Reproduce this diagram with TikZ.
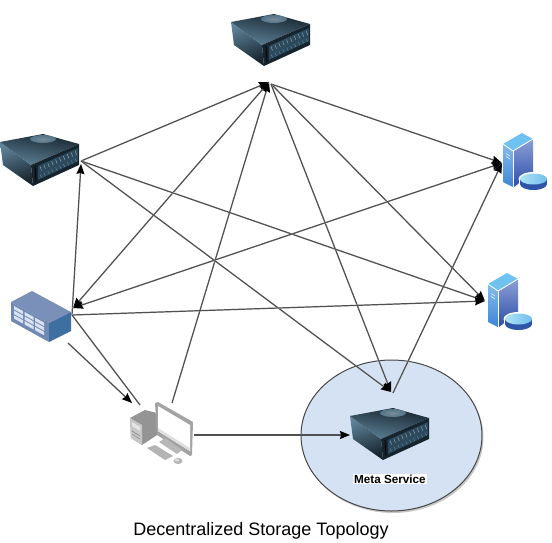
\documentclass[tikz,border=0pt]{standalone}
\usepackage{fontspec}
\setmainfont{Liberation Sans}
\usetikzlibrary{arrows.meta,shapes.geometric}
\definecolor{linkc}{HTML}{505050}
\definecolor{bubblec}{HTML}{D5E2F3}
\definecolor{srvA}{HTML}{16242E}
\definecolor{srvB}{HTML}{2C4A5C}
\definecolor{srvC}{HTML}{5E8298}
\definecolor{srvD}{HTML}{8FA3B0}
\definecolor{twrL1}{HTML}{86BCEB}
\definecolor{twrL2}{HTML}{3F85D6}
\definecolor{twrR1}{HTML}{8D9FD6}
\definecolor{twrR2}{HTML}{2C4FA8}
\definecolor{twrT}{HTML}{6FC2F0}
\definecolor{dskT}{HTML}{8AD6F5}
\definecolor{dskS}{HTML}{2F55A8}
\definecolor{stoT}{HTML}{7A90B8}
\definecolor{stoL}{HTML}{7089B3}
\definecolor{stoR}{HTML}{3F6EA0}
\definecolor{stoC}{HTML}{D8E2F0}
\tikzset{
  x=1pt,y=-1pt,
  tipk/.tip={Stealth[length=10pt,width=8pt,inset=1pt,color=black]},
  link/.style={draw=linkc,line width=1.2pt,-tipk},
  twoway/.style={draw=linkc,line width=1.2pt,tipk-tipk},
  plainlink/.style={draw=linkc,line width=1.2pt},
  linkshadow/.style={draw=black!14,line width=1.3pt,xshift=1.5pt,yshift=-1.6pt},
  anchorbox/.style={inner sep=0pt,minimum width=#1,minimum height=#1},
  pics/rackserver/.style={code={
    \shade[left color=srvC,right color=srvA,shading angle=20] (0,8) -- (31,31) -- (33,52) -- (3,31) -- cycle;
    \shade[left color=srvA,right color=srvC,shading angle=350] (0,8) -- (43,0) -- (79,10) -- (31,31) -- cycle;
    \shade[inner color=srvD,outer color=srvC,opacity=.8] (43,5) ellipse (13 and 4);
    \fill[srvA] (31,31) -- (79,10) -- (79,31) -- (33,52) -- cycle;
    \fill[srvB] (38,32) -- (78,14) -- (78,27) -- (38,46) -- cycle;
    \foreach \k in {0,...,9}{
      \draw[srvD,line width=.5pt] (40+\k*3.9,32.5-\k*1.75) -- +(1.5,4);
      \draw[srvC,line width=.5pt] (40+\k*3.9,40.5-\k*1.75) -- +(1.5,3);
    }
    \draw[black,line width=.8pt] (35,32) -- (36,48);
  }},
  pics/towerdisk/.style={code={
    \fill[white] (-1,11) -- (19,-1) -- (31,5) -- (31,41) -- (22,56) -- (10,55) -- (-1,50) -- cycle;
    \shade[top color=twrL1,bottom color=twrL2] (0,11) -- (10,18) -- (10,54) -- (0,49) -- cycle;
    \shade[top color=twrR1,bottom color=twrR2] (11,18) -- (30,6) -- (30,40) -- (11,54) -- cycle;
    \fill[twrT] (0,11) -- (19,0) -- (30,6) -- (10,18) -- cycle;
    \draw[white,line width=.8pt] (0,11) -- (10,18) -- (30,6);
    \draw[white,line width=.8pt] (10,18) -- (10,54);
    \draw[white!70!twrL1,line width=.7pt] (3,20.5) -- (7,23) (3,23.5) -- (7,26);
    \fill[white] (30.5,46) ellipse (15 and 7);
    \fill[white] (30.5,51) ellipse (15 and 7);
    \fill[white] (15.5,46) rectangle (45.5,51);
    \fill[dskS] (30.5,51) ellipse (13.5 and 6);
    \fill[dskS] (17,46) rectangle (44,51);
    \shade[left color=dskT!70!white,right color=dskT!70!twrL2] (30.5,46) ellipse (13.5 and 5.5);
  }},
  pics/storagebox/.style={code={
    \fill[stoT] (0,11) -- (21,0) -- (60,21) -- (38,32) -- cycle;
    \fill[stoL] (0,11) -- (38,32) -- (38,51) -- (0,30) -- cycle;
    \fill[stoR] (38,32) -- (60,21) -- (60,40) -- (38,51) -- cycle;
    \foreach \r in {0,1,2}{\foreach \c in {0,1,2}{
      \fill[stoC] (3+\c*10.5,15+\r*4.6+\c*5.8) -- ++(9,5) -- ++(0,3.4) -- ++(-9,-5) -- cycle;
    }}
  }},
  pics/desktoppc/.style={code={
    \fill[black!42] (0,5) -- (15,-3) -- (27,0) -- (27,22) -- (12,32) -- (1,25) -- cycle;
    \fill[black!22] (0,5) -- (12,12) -- (12,32) -- (1,25) -- cycle;
    \fill[white!90!black] (2,9) -- (10,14) -- (10,18) -- (2,13) -- cycle;
    \draw[black!50,line width=.5pt] (2,18) -- (10,23) (2,21) -- (10,26);
    \fill[black!36] (25,-10) -- (28,-11) -- (63,9) -- (62,42) -- (60,43) -- (27,22) -- cycle;
    \fill[white] (28,-7) -- (60,12) -- (60,38) -- (28,18) -- cycle;
    \fill[black!12] (28,15) -- (60,35) -- (60,38) -- (28,18) -- cycle;
    \fill[black!28] (29,29) -- (35,25) -- (52,37) -- (47,41) -- cycle;
    \fill[black!30] (17,35) -- (25,32) -- (43,43) -- (35,47) -- cycle;
    \draw[white!75!black,line width=.5pt] (21,36) -- (36,45) (24,34.5) -- (39,43.5);
    \fill[black!30] (48,48) ellipse (4.5 and 3);
    \fill[black!12] (47,47.3) ellipse (2.4 and 1.2);
  }}
}
\newcommand{\lnk}[3][link]{%
  \draw[linkshadow] (#2) -- (#3);
  \draw[#1] (#2) -- (#3);}
\begin{document}
\begin{tikzpicture}
\useasboundingbox (0,0) rectangle (552,542);
% meta bubble
\fill[black!22] (393,437.5) ellipse (90.5 and 75.5);
\node[draw=black!72,fill=bubblec,line width=1pt,ellipse,inner sep=0pt,minimum width=181pt,minimum height=151pt] (bubble) at (391.5,435.5) {};
% icons
\node[anchorbox=1pt] (topsrv) at (270,40) {};
\pic at (231,14) {rackserver};
\node[anchorbox=1pt] (leftsrv) at (40,160) {};
\pic at (0,134) {rackserver};
\node[anchorbox=1pt] (metasrv) at (390,434) {};
\pic at (350,408) {rackserver};
\node[anchorbox=1pt] (tower1) at (520,160) {};
\pic at (503,133) {towerdisk};
\node[anchorbox=1pt] (tower2) at (505,300) {};
\pic at (488,273) {towerdisk};
\node[anchorbox=1pt] (storage) at (41,316) {};
\pic at (11,291) {storagebox};
\node[anchorbox=1pt] (pc) at (160,435) {};
\pic at (130,413) {desktoppc};
% ports
\coordinate (T) at (269,82);
\coordinate (Tout) at (271,84);
\coordinate (L) at (81,164);
\coordinate (Lout) at (81,161);
\coordinate (S) at (73,308);
\coordinate (Sout) at (72,315);
\coordinate (Sb) at (68,343);
\coordinate (A) at (502,163);
\coordinate (B) at (485,301);
\coordinate (M) at (391,392);
\coordinate (Mout) at (393,393);
\coordinate (Mserver) at (350,435);
\coordinate (Pa) at (172,403);
\coordinate (Pb) at (140,405);
\coordinate (Pin) at (132,403);
\coordinate (Pr) at (194,435);
% connectors
\lnk{Lout}{T}
\lnk{Sout}{L}
\lnk{Pa}{T}
\lnk[twoway]{T}{S}
\lnk{Tout}{A}
\lnk{Tout}{B}
\lnk{Tout}{M}
\lnk{Lout}{B}
\lnk{Lout}{M}
\lnk{Sout}{B}
\lnk[twoway]{A}{S}
\lnk[plainlink]{Pb}{Sout}
\lnk{Sb}{Pin}
\lnk{Mout}{A}
\lnk{Pr}{Mserver}
% labels
\node[name=metalabel,fill=white,inner sep=1pt,font=\bfseries\fontsize{11.7}{14}\selectfont] at (390,479) {Meta Service};
\node[name=title,font=\fontsize{18}{21}\selectfont] at (261,531) {Decentralized Storage Topology};
\end{tikzpicture}
\end{document}
